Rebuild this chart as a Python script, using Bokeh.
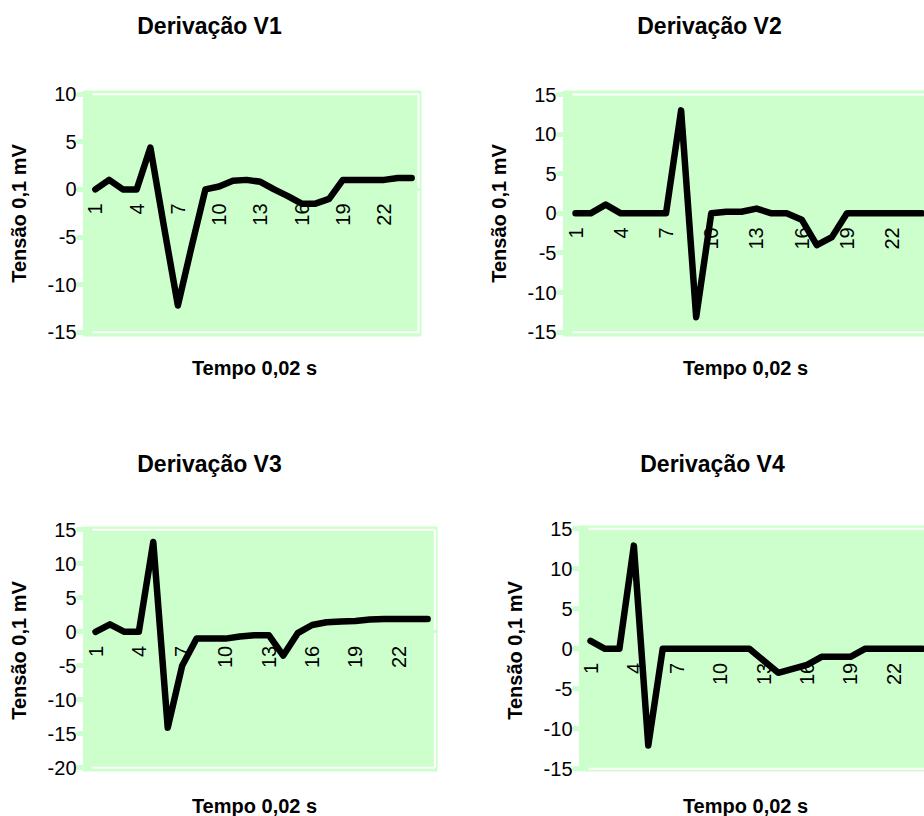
from math import pi
from bokeh.plotting import figure
from bokeh.models import FixedTicker, Label, Range1d, PrintfTickFormatter
from bokeh.layouts import column, row
from bokeh.embed import file_html
from bokeh.resources import INLINE

# ---------------- data ----------------
categories = list(range(1, 25))
x_tick_labels = [1, 4, 7, 10, 13, 16, 19, 22]

v1 = [0, 1, 0, 0, 4.4, -4, -12.2, -6, 0, 0.3, 0.9, 1, 0.8, 0, -0.7, -1.5,
      -1.5, -1, 1, 1, 1, 1, 1.2, 1.2]
v2 = [0, 0, 1.1, 0, 0, 0, 0, 13, -13.1, 0, 0.2, 0.2, 0.6, 0, 0, -0.8,
      -4, -3, 0, 0, 0, 0, 0, 0]
v3 = [0, 1.1, 0, 0, 13.2, -14.1, -5, -1, -1, -1, -0.7, -0.5, -0.5, -3.5, -0.2, 1,
      1.4, 1.5, 1.6, 1.8, 1.9, 1.9, 1.9, 1.9]
v4 = [1, 0, 0, 12.9, -12.1, 0, 0, 0, 0, 0, 0, 0, -1.5, -3, -2.5, -2,
      -1, -1, -1, 0, 0, 0, 0, 0]

y1_ticks = [-15, -10, -5, 0, 5, 10]
y2_ticks = [-15, -10, -5, 0, 5, 10, 15]
y3_ticks = [-20, -15, -10, -5, 0, 5, 10, 15]
y4_ticks = [-15, -10, -5, 0, 5, 10, 15]

titles = ["Derivação V1", "Derivação V2", "Derivação V3", "Derivação V4"]
y_label = "Tensão 0,1 mV"
x_label = "Tempo 0,02 s"

GREEN = "#CCFFCC"
FONT = "Liberation Sans"


def panel(vals, yticks, title, W, H, ox, oy, g, x05, ppc, ytop_px, ybot_px,
          axis_px, title_pos, ylab_pos, xlab_pos, right_line):
    """All pixel arguments are page pixels; (ox, oy) is the figure origin."""
    gx0, gx1, gy0, gy1 = g
    ymin, ymax = yticks[0], yticks[-1]
    ppu = (ybot_px - ytop_px) / (ymax - ymin)

    def dx(px):
        return 0.5 + (px - x05) / ppc

    def dy(py):
        return ymax - (py - ytop_px) / ppu

    p = figure(width=W, height=H, output_backend="svg", toolbar_location=None,
               x_range=Range1d(dx(ox), dx(ox + W)),
               y_range=Range1d(dy(oy + H), dy(oy)),
               min_border=0)
    p.background_fill_color = "white"
    p.border_fill_color = "white"
    p.outline_line_color = None
    p.xgrid.visible = False
    p.ygrid.visible = False

    # plot-area fill and its white inner border
    p.quad(left=[dx(gx0)], right=[dx(gx1)], bottom=[dy(gy1)], top=[dy(gy0)],
           fill_color=GREEN, line_color=None, level="underlay")
    xl = dx(axis_px + 8)
    xr = len(categories) + 0.5 if right_line else dx(gx1)
    sx0 = [xl, xl]
    sx1 = [xr, xr]
    sy0 = [ymax, ymin]
    sy1 = [ymax, ymin]
    if right_line:
        sx0.append(xr); sx1.append(xr); sy0.append(ymax); sy1.append(ymin)
    p.segment(x0=sx0, y0=sy0, x1=sx1, y1=sy1, line_color="white", line_width=2,
              level="underlay")

    ya = p.yaxis[0]
    ya.fixed_location = dx(axis_px)
    ya.bounds = (dy(gy1), dy(gy0))
    ya.ticker = FixedTicker(ticks=yticks)
    ya.formatter = PrintfTickFormatter(format="%d")
    ya.axis_line_color = GREEN
    ya.axis_line_width = 3
    ya.major_tick_line_color = GREEN
    ya.major_tick_line_width = 5
    ya.major_tick_line_cap = "round"
    ya.major_tick_out = 6
    ya.major_tick_in = 0
    ya.minor_tick_line_color = None
    ya.major_label_text_font = FONT
    ya.major_label_text_font_size = "20px"
    ya.major_label_text_color = "black"
    ya.major_label_standoff = 2

    xa = p.xaxis[0]
    xa.fixed_location = 0
    xa.bounds = (dx(gx0), dx(gx1))
    xa.ticker = FixedTicker(ticks=x_tick_labels)
    xa.formatter = PrintfTickFormatter(format="%d")
    xa.major_label_orientation = pi / 2
    xa.axis_line_color = GREEN
    xa.axis_line_width = 3
    xa.major_tick_line_color = None
    xa.minor_tick_line_color = None
    xa.major_tick_out = 0
    xa.major_tick_in = 0
    xa.major_label_standoff = 14
    xa.major_label_text_font = FONT
    xa.major_label_text_font_size = "20px"
    xa.major_label_text_color = "black"

    p.line(categories, vals, line_color="black", line_width=6.5,
           line_join="round", line_cap="round", level="overlay")

    def lab(text, pos, size, angle=0.0):
        px, py = pos
        p.add_layout(Label(x=px - ox, y=(oy + H) - py, x_units="screen", y_units="screen",
                           text=text, text_font=FONT, text_font_size=size,
                           text_font_style="bold", text_color="black",
                           text_align="center", text_baseline="alphabetic",
                           angle=angle))

    lab(title, title_pos, "23px")
    lab(y_label, ylab_pos, "20px", angle=pi / 2)
    lab(x_label, xlab_pos, "20px")
    return p


p1 = panel(v1, y1_ticks, titles[0], 470, 430, 0, 0, (85, 421, 90, 336),
           88.0, 13.75, 93.7, 331.7, 84, (209, 25), (18, 213), (254, 367), True)
p2 = panel(v2, y2_ticks, titles[1], 454, 430, 470, 0, (565, 930, 90, 336),
           567.5, 15.08, 94.0, 331.7, 564, (709, 25), (498, 213), (745, 367), False)
p3 = panel(v3, y3_ticks, titles[2], 470, 386, 0, 430, (85, 437, 526, 771),
           87.8, 14.44, 529.3, 767.3, 84, (209, 463), (18, 650), (254, 805), True)
p4 = panel(v4, y4_ticks, titles[3], 454, 386, 470, 430, (581, 930, 525, 771),
           582.8, 14.44, 528.3, 768.3, 580, (712, 463), (514, 650), (745, 805), False)

layout = column(row(p1, p2), row(p3, p4))

with open("out.html", "w") as f:
    f.write(file_html(layout, INLINE))
